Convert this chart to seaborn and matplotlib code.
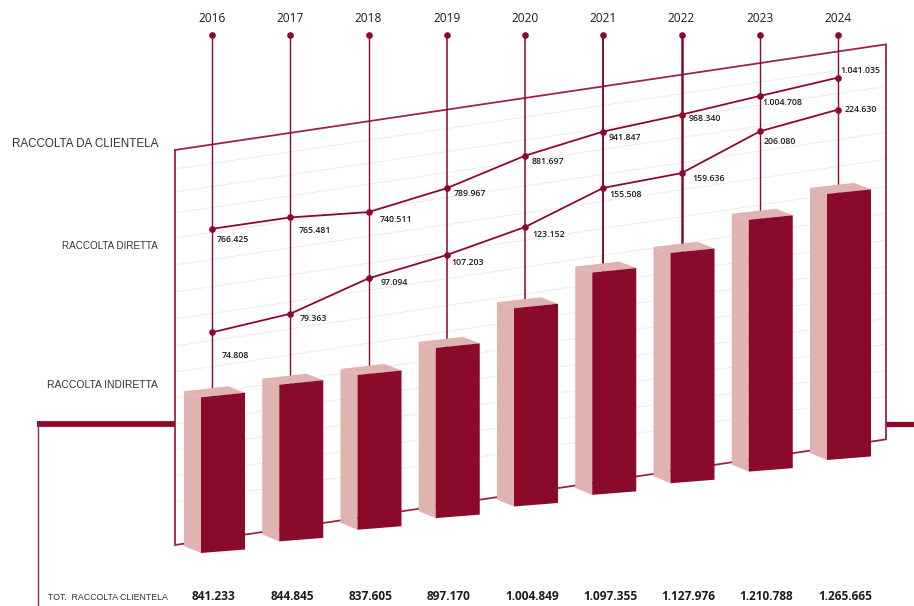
import numpy as np
import matplotlib
matplotlib.use("Agg")
import matplotlib.pyplot as plt
import seaborn as sns

years = [2016, 2017, 2018, 2019, 2020, 2021, 2022, 2023, 2024]
raccolta_diretta = [766425, 765481, 740511, 789967, 881697, 941847, 968340, 1004708, 1041035]
raccolta_indiretta = [74808, 79363, 97094, 107203, 123152, 155508, 159636, 206080, 224630]
totale_clientela = [841233, 844845, 837605, 897170, 1004849, 1097355, 1127976, 1210788, 1265665]

row_labels = ["RACCOLTA DA CLIENTELA", "RACCOLTA DIRETTA", "RACCOLTA INDIRETTA"]
total_label = "TOT.  RACCOLTA CLIENTELA"

WINE = "#8a0a2a"
ROSE = "#deb3b0"
EDGE = "#9c2444"
GRID = "#eeeded"
TEXT = "#1c1c1c"

# Label offsets from their marker, in pixels
diretta_dx = [5, 8, 11, 7, 7, 5, 7, 3, 2]
diretta_dy = [11, 13, 7, 5, 6, 6, 4, 7, -7]
indiretta_dx = [10, 9, 12, 5, 7, 6, 11, 4, 7]
indiretta_dy = [23, 5, 4, 7, 7, 7, 5, 10, 0]
column_lw = [1.0, 1.0, 1.0, 1.1, 1.1, 1.4, 1.8, 1.0, 1.0]

# Heights of the wall's faint rules above its bottom edge
wall_rules = [43, 69, 95, 121, 147, 173, 199, 226, 253, 280, 307, 332, 353, 376]

sns.set_theme(style="white")
plt.rcParams["font.family"] = ["Open Sans", "DejaVu Sans"]

fig = plt.figure(figsize=(9.14, 6.06), dpi=100)
ax = fig.add_axes([0, 0, 1, 1])

SLOPE = -0.1486


def column_x(i):
    return 212.0 + 78.25 * i


def floor_y(x):
    """Floor line of the skewed plane at horizontal position x."""
    return 553.0 + SLOPE * (x - 201.0)


def wall_edge(x, height):
    return 545.0 + SLOPE * (x - 175.0) - height


def amount(v):
    return f"{v:,}".replace(",", ".")


def bar_height(v):
    return -63.0 + 0.26 * v / 1000.0


def diretta_height(v):
    return 316.0 + 190.0 * np.log(v / 740511.0)


def indiretta_height(v):
    return 219.0 + 118.0 * np.log(v / 74808.0)


# Wall of the skewed plane
wall_x = np.array([175.0, 886.0])
for h in wall_rules:
    ax.plot(wall_x, wall_edge(wall_x, h), color=GRID, lw=0.8, zorder=1)
ax.plot([175, 175, 886, 886, 175],
        [wall_edge(175, 395), 545, wall_edge(886, 0), wall_edge(886, 395), wall_edge(175, 395)],
        color=EDGE, lw=1.3, zorder=2, solid_joinstyle="miter")

# Heavy rule crossing behind the bars, with its drop on the left
ax.plot([37, 175], [424, 424], color=WINE, lw=4.2, solid_capstyle="butt", zorder=2)
ax.plot([886, 914], [423.5, 423.5], color=WINE, lw=3.8, solid_capstyle="butt", zorder=2)
ax.plot([37.5, 37.5], [424, 606], color=EDGE, lw=1.0, zorder=2)

# Year columns with a dot at the head, running down to the top of their bar
for i, year in enumerate(years):
    x = column_x(i)
    column_end = floor_y(x - 11.0) - bar_height(totale_clientela[i])
    ax.plot([x, x], [35, column_end], color=WINE, lw=column_lw[i], zorder=3)
    ax.plot([x], [35], "o", color=WINE, ms=4.8, mew=0, zorder=4)
    ax.text(x, 19, str(year), ha="center", va="center", fontsize=8.6, color=TEXT)

# The two collection series
for values, height, dxs, dys in [
    (raccolta_diretta, diretta_height, diretta_dx, diretta_dy),
    (raccolta_indiretta, indiretta_height, indiretta_dx, indiretta_dy),
]:
    xs = np.array([column_x(i) for i in range(len(values))])
    ys = floor_y(xs) - height(np.array(values, dtype=float))
    sns.lineplot(x=xs, y=ys, sort=False, estimator=None, errorbar=None, color=WINE,
                 linewidth=1.3, marker="o", markersize=4.8, markeredgewidth=0,
                 legend=False, ax=ax, zorder=5)
    for x, y, v, dx, dy in zip(xs, ys, values, dxs, dys):
        ax.text(x + dx, y + dy, amount(v), ha="left", va="center", fontsize=6.3,
                fontweight=600, color=TEXT, zorder=6)

# Extruded bars for the client total
for i, v in enumerate(totale_clientela):
    left = column_x(i) - 11.0
    right = left + 44.0
    h = bar_height(v)
    bottom = floor_y(left)
    top = bottom - h
    back = left - 17.0
    ax.fill([back, left, left, back], [top - 6, top, bottom, bottom - 7],
            color=ROSE, lw=0, zorder=7)
    ax.fill([back, left, right, right - 17.0], [top - 6, top, top - 4.5, top - 11],
            color=ROSE, lw=0, zorder=7)
    ax.fill([left, right, right, left], [top, top - 4.5, bottom - 3.5, bottom],
            color=WINE, lw=0, zorder=8)
    ax.text(192.0 + 78.25 * i, 597, amount(v), ha="left", va="center", fontsize=8.6,
            fontweight="bold", color=TEXT, zorder=9)

# Row captions on the left
ax.text(158, 144, row_labels[0], ha="right", va="center", fontsize=8.4,
        family="Liberation Sans", color="#333333")
ax.text(158, 246, row_labels[1], ha="right", va="center", fontsize=7.1,
        family="Liberation Sans", color="#333333")
ax.text(158, 385, row_labels[2], ha="right", va="center", fontsize=7.5,
        family="Liberation Sans", color="#333333")
ax.text(168, 597, total_label, ha="right", va="center", fontsize=6.3,
        family="Liberation Sans", color="#333333")

ax.set_xlim(0, 914)
ax.set_ylim(606, 0)
ax.set_axis_off()
fig.savefig("out.png", dpi=100, facecolor="white")
